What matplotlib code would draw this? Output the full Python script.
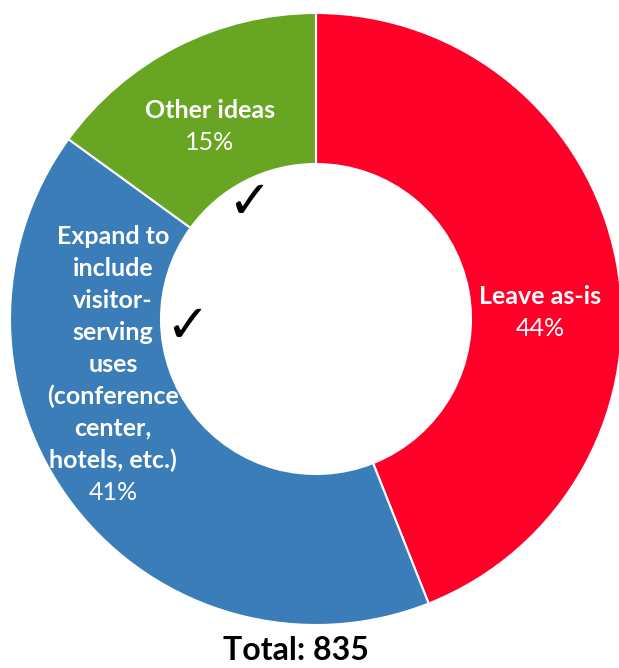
import matplotlib.pyplot as plt

categories = ['Leave as-is', 'Expand to\ninclude\nvisitor-\nserving\nuses\n(conference\ncenter,\nhotels, etc.)', 'Other ideas']
shares = [44, 41, 15]
colors = ['#FF0029', '#3A7DB8', '#68A523']
total = 835

W, H = 619, 668
fig = plt.figure(figsize=(W / 100, H / 100), dpi=100)
ax = fig.add_axes([0, 0, 1, 1])

def py(y):
    return H - y

cx, cy, r = 316, py(319), 306
ax.pie(shares, colors=colors, startangle=90, counterclock=False,
       center=(cx, cy), radius=r, frame=True,
       wedgeprops=dict(width=r - 155, edgecolor='white', linewidth=1.5))
ax.set_xlim(0, W)
ax.set_ylim(0, H)
ax.set_aspect('equal')
ax.axis('off')

font = 'Lato'
fs = 18
# label positions (image pixels): centre of first line
label_pos = [(540, 297), (113, 236), (210, 110)]
line_h = 32
for name, pct, (x, y) in zip(categories, shares, label_pos):
    n = name.count('\n') + 1
    for i, line in enumerate(name.split('\n')):
        ax.text(x, py(y + i * line_h), line, ha='center', va='center',
                color='white', fontsize=fs, fontweight='bold', family=font)
    ax.text(x, py(y + n * line_h), f'{pct}%', ha='center', va='center',
            color='white', fontsize=fs, family=font)

# check marks
for x, y in [(249, 203), (187, 327)]:
    ax.text(x, py(y), '\u2713', ha='center', va='center', fontsize=38,
            color='black', family='DejaVu Sans')

ax.text(296, py(650), f'Total: {total}', ha='center', va='center',
        fontsize=23, fontweight='bold', family=font, color='black')

fig.savefig('out.png', dpi=100)
